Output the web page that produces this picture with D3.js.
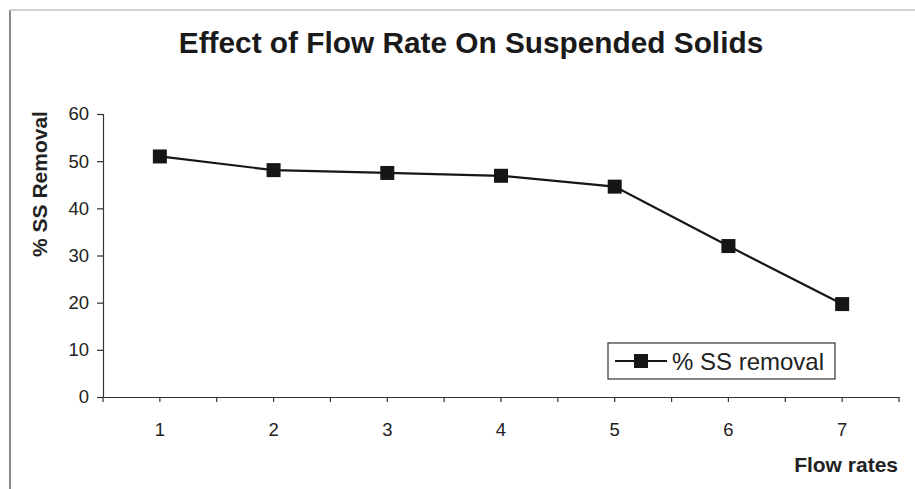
<!DOCTYPE html>
<html><head><meta charset="utf-8">
<script src="https://cdn.jsdelivr.net/npm/d3@7"></script>
<style>
html,body{margin:0;padding:0;background:#fff;}
svg{display:block;font-family:"Liberation Sans",Arial,sans-serif;}
</style></head>
<body>
<svg id="chart" width="915" height="489"></svg>
<script>
const categories = ["1","2","3","4","5","6","7"];
const ssRemoval = [51.0, 48.1, 47.5, 46.9, 44.6, 32.0, 19.7];
const yTicks = [0,10,20,30,40,50,60];
const titleText = "Effect of Flow Rate On Suspended Solids";
const yLabel = "% SS Removal";
const xLabel = "Flow rates";
const seriesName = "% SS removal";

const svg = d3.select("#chart");
const W = 915, H = 489;
const m = {left:103, right:16, top:114, bottom:92};

// frame
svg.append("line").attr("x1",10).attr("x2",10).attr("y1",10).attr("y2",H)
  .attr("stroke","#8a8a8a").attr("stroke-width",2);
svg.append("line").attr("x1",10).attr("x2",W).attr("y1",10).attr("y2",10)
  .attr("stroke","#c8c0c0").attr("stroke-width",1.5);

const x = d3.scaleBand().domain(categories).range([m.left, W-m.right]).padding(0);
const y = d3.scaleLinear().domain([0,60]).range([H-m.bottom, m.top]);

// title
svg.append("text").attr("x",471).attr("y",53).attr("text-anchor","middle")
  .attr("font-size",29.8).attr("font-weight","bold").attr("fill","#1a1a1a").text(titleText);

// y axis
const yAxis = d3.axisLeft(y).tickValues(yTicks).tickSize(6).tickPadding(8);
const gy = svg.append("g").attr("transform",`translate(${m.left},0)`).call(yAxis);
gy.select(".domain").attr("stroke","#333").attr("stroke-width",1.2);
gy.selectAll(".tick line").attr("stroke","#333").attr("stroke-width",1.2);
gy.selectAll(".tick text").attr("font-size",18.5).attr("fill","#222").attr("font-family","Liberation Sans, Arial, sans-serif");

// x axis: ticks at category centers and boundaries
const xAxis = d3.axisBottom(x).tickSize(0).tickPadding(26);
const gx = svg.append("g").attr("transform",`translate(0,${y(0)})`).call(xAxis);
gx.select(".domain").attr("stroke","#333").attr("stroke-width",1.2);
gx.selectAll(".tick text").attr("font-size",18.5).attr("fill","#222").attr("font-family","Liberation Sans, Arial, sans-serif");
const tickPos = [];
categories.forEach(c => { tickPos.push(x(c)); tickPos.push(x(c)+x.bandwidth()/2); });
tickPos.push(W-m.right);
gx.selectAll("line.mt").data(tickPos).enter().append("line").attr("class","mt")
  .attr("x1",d=>d).attr("x2",d=>d).attr("y1",0).attr("y2",5)
  .attr("stroke","#333").attr("stroke-width",1.2);

// y label
svg.append("text").attr("transform","translate(47,184) rotate(-90)").attr("text-anchor","middle")
  .attr("font-size",21).attr("font-weight","bold").attr("fill","#222").text(yLabel);

// x label
svg.append("text").attr("x",898).attr("y",472).attr("text-anchor","end")
  .attr("font-size",21).attr("font-weight","bold").attr("fill","#222").text(xLabel);

// line
const cx = (d,i) => x(categories[i]) + x.bandwidth()/2;
const line = d3.line().x((d,i)=>cx(d,i)).y(d=>y(d));
svg.append("path").datum(ssRemoval).attr("d",line).attr("fill","none")
  .attr("stroke","#161616").attr("stroke-width",2.2);
const ms = 14;
svg.selectAll("rect.pt").data(ssRemoval).enter().append("rect").attr("class","pt")
  .attr("x",(d,i)=>cx(d,i)-ms/2).attr("y",d=>y(d)-ms/2).attr("width",ms).attr("height",ms)
  .attr("fill","#161616");

// legend
const lg = svg.append("g").attr("transform","translate(608,343)");
lg.append("rect").attr("width",227).attr("height",36).attr("fill","#fff")
  .attr("stroke","#333").attr("stroke-width",1.2);
lg.append("line").attr("x1",7).attr("x2",59).attr("y1",18).attr("y2",18)
  .attr("stroke","#161616").attr("stroke-width",2.2);
lg.append("rect").attr("x",33-ms/2).attr("y",18-ms/2).attr("width",ms).attr("height",ms).attr("fill","#161616");
lg.append("text").attr("x",64).attr("y",26.5).attr("font-size",24).attr("fill","#222").text(seriesName);
</script>
</body></html>
